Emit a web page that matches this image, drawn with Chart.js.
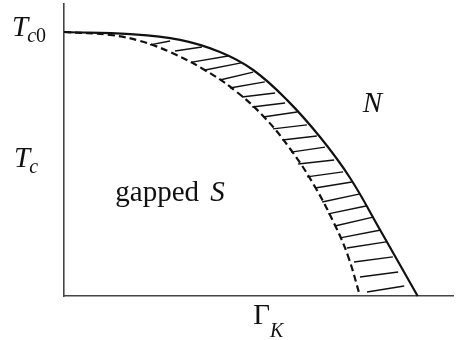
<!DOCTYPE html>
<html>
<head>
<meta charset="utf-8">
<script src="https://cdn.jsdelivr.net/npm/chart.js@4/dist/chart.umd.min.js"></script>
<style>
  html, body { margin: 0; padding: 0; background: #fff; }
  #wrap { width: 464px; height: 340px; }
</style>
</head>
<body>
<div id="wrap"><canvas id="phaseChart"></canvas></div>
<script>
// upper (solid) boundary, Tc vs Gamma_K, Tc0 = 1
const solidX = [0, 0.187, 0.328, 0.441, 0.535, 0.631, 0.724, 0.809, 0.894, 1.0];
const solidY = [1.0, 0.992, 0.970, 0.924, 0.856, 0.742, 0.602, 0.447, 0.250, 0];

// gapped boundary (dashed)
const dashedX = [0, 0.130, 0.215, 0.300, 0.393, 0.478, 0.563, 0.642, 0.710, 0.766, 0.803, 0.837];
const dashedY = [1.0, 0.989, 0.966, 0.924, 0.860, 0.784, 0.682, 0.553, 0.413, 0.269, 0.152, 0];

// hatch strokes between the two curves: start (x0,y0) -> end (x1,y1)
const hatchX0 = [0.243, 0.314, 0.362, 0.399, 0.441, 0.469, 0.503, 0.532, 0.563, 0.591, 0.617, 0.642,
                 0.662, 0.687, 0.710, 0.730, 0.747, 0.766, 0.781, 0.800, 0.820, 0.837, 0.857];
const hatchY0 = [0.951, 0.928, 0.886, 0.856, 0.818, 0.788, 0.754, 0.716, 0.678, 0.633, 0.591, 0.545,
                 0.500, 0.451, 0.409, 0.356, 0.311, 0.265, 0.220, 0.182, 0.129, 0.072, 0.015];
const hatchX1 = [0.300, 0.390, 0.464, 0.501, 0.535, 0.568, 0.597, 0.625, 0.659, 0.687, 0.715, 0.738,
                 0.764, 0.789, 0.814, 0.834, 0.854, 0.874, 0.896, 0.911, 0.930, 0.945, 0.962];
const hatchY1 = [0.966, 0.943, 0.909, 0.883, 0.848, 0.811, 0.769, 0.731, 0.697, 0.648, 0.606, 0.564,
                 0.515, 0.470, 0.432, 0.386, 0.341, 0.299, 0.250, 0.205, 0.148, 0.091, 0.038];

const tc0Value = 1;
const tcLabelValue = 0.49;
const xLabelValue = 0.535;

const SERIF = '"Liberation Serif", "DejaVu Serif", serif';
const INK = "#111";

const solidPts = solidX.map((x, i) => ({ x: x, y: solidY[i] }));
const dashedPts = dashedX.map((x, i) => ({ x: x, y: dashedY[i] }));
const hatchPts = [];
hatchX0.forEach((x, i) => {
  hatchPts.push({ x: x, y: hatchY0[i] });
  hatchPts.push({ x: hatchX1[i], y: hatchY1[i] });
  hatchPts.push({ x: null, y: null });
});

function drawRuns(ctx, x, y, runs) {
  runs.forEach((r) => {
    ctx.font = r.font;
    x += r.dx || 0;
    ctx.fillText(r.text, x, y + (r.dy || 0));
    x += ctx.measureText(r.text).width;
  });
}

const labelPlugin = {
  id: "labels",
  afterDraw(chart) {
    const ctx = chart.ctx;
    const xs = chart.scales.x;
    const ys = chart.scales.y;
    ctx.save();
    ctx.fillStyle = INK;
    ctx.textBaseline = "alphabetic";
    ctx.textAlign = "left";
    const big = "29px " + SERIF;
    const bigI = "italic 29px " + SERIF;
    const subI = "italic 20px " + SERIF;
    const sub = "20px " + SERIF;

    // T_c0 at the Tc0 level
    drawRuns(ctx, 12, ys.getPixelForValue(tc0Value) + 4, [
      { text: "T", font: bigI },
      { text: "c", font: subI, dx: -1, dy: 6 },
      { text: "0", font: sub, dy: 6 }
    ]);
    // T_c axis label
    drawRuns(ctx, 14, ys.getPixelForValue(tcLabelValue), [
      { text: "T", font: bigI },
      { text: "c", font: subI, dx: -1, dy: 6 }
    ]);
    // Gamma_K axis label
    drawRuns(ctx, xs.getPixelForValue(xLabelValue), ys.bottom + 28, [
      { text: "\u0393", font: big },
      { text: "K", font: subI, dx: 0, dy: 13 }
    ]);
    // regions
    drawRuns(ctx, xs.getPixelForValue(0.145), ys.getPixelForValue(0.36), [
      { text: "gapped ", font: big },
      { text: "S", font: bigI, dx: 4 }
    ]);
    drawRuns(ctx, xs.getPixelForValue(0.845), ys.getPixelForValue(0.697), [
      { text: "N", font: bigI }
    ]);
    ctx.restore();
  }
};

new Chart(document.getElementById("phaseChart"), {
  type: "scatter",
  data: {
    datasets: [
      {
        data: hatchPts,
        showLine: true,
        borderColor: INK,
        borderWidth: 1.4,
        pointRadius: 0,
        spanGaps: false,
        clip: false
      },
      {
        data: dashedPts,
        showLine: true,
        borderColor: INK,
        borderWidth: 2.2,
        borderDash: [7, 4],
        pointRadius: 0,
        tension: 0.4,
        clip: false
      },
      {
        data: solidPts,
        showLine: true,
        borderColor: INK,
        borderWidth: 2.2,
        pointRadius: 0,
        tension: 0.4,
        clip: false
      }
    ]
  },
  options: {
    responsive: true,
    maintainAspectRatio: false,
    animation: false,
    layout: { padding: { left: 64, right: 11, top: 4, bottom: 44 } },
    plugins: { legend: { display: false }, tooltip: { enabled: false } },
    scales: {
      x: {
        type: "linear",
        min: 0,
        max: 1.1,
        ticks: { display: false },
        grid: { display: false, drawTicks: false },
        border: { display: true, color: "#444", width: 1.6 }
      },
      y: {
        type: "linear",
        min: 0,
        max: 1.106,
        ticks: { display: false },
        grid: { display: false, drawTicks: false },
        border: { display: true, color: "#444", width: 1.6 }
      }
    }
  },
  plugins: [labelPlugin]
});
</script>
</body>
</html>
